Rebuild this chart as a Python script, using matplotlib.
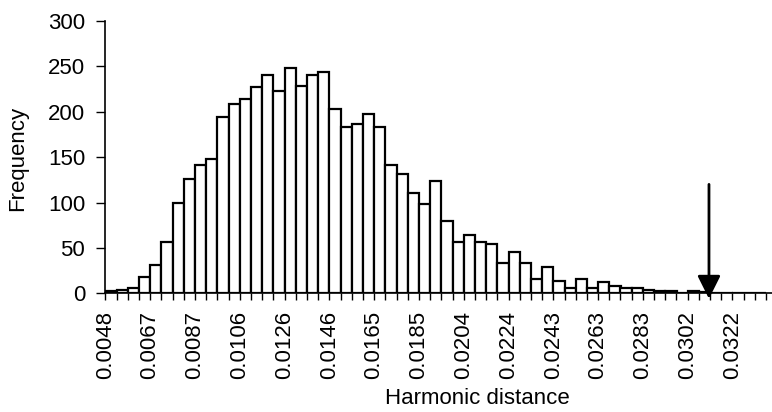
import numpy as np
import matplotlib
matplotlib.use("Agg")
import matplotlib.pyplot as plt

plt.rcParams['font.family'] = ['Liberation Sans', 'DejaVu Sans']

# bin counts (59 bins, equal width)
counts = [2, 4, 6, 18, 31, 57, 100, 126, 141, 148,
          194, 209, 214, 227, 240, 223, 248, 228, 240, 244,
          203, 183, 187, 197, 183, 141, 131, 111, 98, 124,
          80, 57, 64, 57, 54, 33, 45, 33, 16, 29,
          14, 6, 16, 6, 12, 8, 6, 6, 4, 2,
          2, 0, 2, 1, 0, 0, 0, 0, 0]

# labels shown every 4th bin edge
tick_labels = ['0.0048', '0.0067', '0.0087', '0.0106', '0.0126', '0.0146',
               '0.0165', '0.0185', '0.0204', '0.0224', '0.0243', '0.0263',
               '0.0283', '0.0302', '0.0322']
label_step = 4

# observed value marked by the arrow (in bin units)
observed_bin = 53.9
arrow_top = 120

n_bins = len(counts)
x = np.arange(n_bins)
fs = 16
W, H = 772, 412

fig = plt.figure(figsize=(W / 100, H / 100), dpi=100)
ax = fig.add_axes([105.3 / W, 118.7 / H, 666.4 / W, 272.3 / H])

ax.bar(x, counts, width=1.0, align='edge', color='white',
       edgecolor='black', linewidth=1.6)

ax.set_xlim(0, 59.5)
ax.set_ylim(0, 300)

ax.spines['top'].set_visible(False)
ax.spines['right'].set_visible(False)
ax.spines['left'].set_linewidth(1.2)
ax.spines['bottom'].set_linewidth(1.2)

ax.set_yticks(np.arange(0, 301, 50))
ax.tick_params(axis='y', direction='out', length=6.5, width=1.0,
               pad=8, labelsize=fs)

ax.set_xticks(np.arange(0, n_bins + 1), minor=True)
ax.set_xticks(np.arange(len(tick_labels)) * label_step)
ax.set_xticklabels(tick_labels, rotation=90)
ax.tick_params(axis='x', which='both', direction='out', length=5,
               width=1.0, pad=8, labelsize=fs)

# axis titles placed in figure pixels
fig.text(477 / W, 1 - 398 / H, 'Harmonic distance', fontsize=fs,
         ha='center', va='center')
fig.text(18 / W, 1 - 158 / H, 'Frequency', fontsize=fs, rotation=90,
         ha='center', va='center')

# arrow pointing at the observed value
ax.annotate('', xy=(observed_bin, -6), xytext=(observed_bin, arrow_top),
            annotation_clip=False,
            arrowprops=dict(arrowstyle='-|>,head_length=1.0,head_width=0.5',
                            mutation_scale=14, lw=2, color='black',
                            shrinkA=0, shrinkB=0))

fig.savefig('out.png', dpi=100)
